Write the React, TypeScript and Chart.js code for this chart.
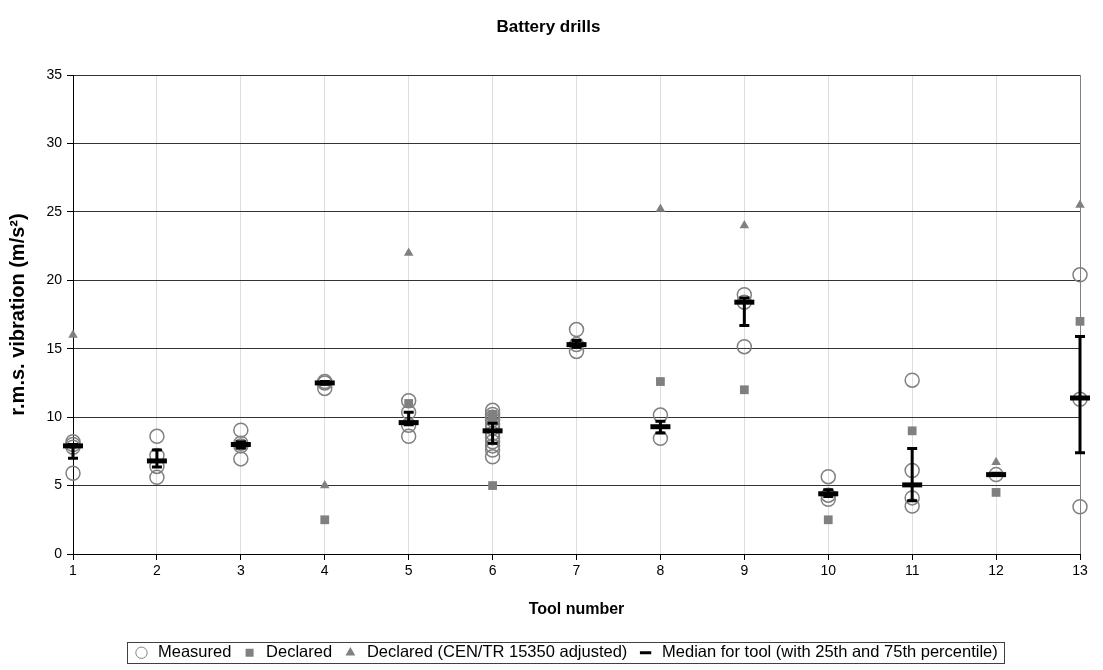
import React, { useEffect, useRef } from "react";
import { Chart, registerables } from "chart.js";

Chart.register(...registerables);

// ---------- data ----------
const TOOLS = [1, 2, 3, 4, 5, 6, 7, 8, 9, 10, 11, 12, 13];
const Y_MIN = 0;
const Y_MAX = 35;
const Y_STEP = 5;

// measured r.m.s. vibration values per tool
const measured: number[][] = [
  [8.2, 8.0, 7.8, 5.9],
  [8.6, 7.2, 6.4, 5.6],
  [9.05, 8.1, 7.9, 6.95],
  [12.6, 12.5, 12.1],
  [11.2, 10.35, 9.4, 8.6],
  [10.5, 10.2, 10.0, 9.8, 9.5, 9.2, 8.8, 8.5, 8.2, 7.9, 7.6, 7.1],
  [16.4, 15.3, 14.8],
  [10.15, 8.45],
  [18.95, 18.4, 15.15],
  [5.65, 4.3, 4.0],
  [12.7, 6.1, 4.1, 3.5],
  [5.8],
  [20.4, 11.3, 3.45],
];

// declared values per tool
const declared: number[][] = [
  [],
  [],
  [],
  [2.5],
  [11.0],
  [10.2, 9.8, 5.0],
  [],
  [12.6],
  [12.0],
  [2.5],
  [9.0],
  [4.5],
  [17.0],
];

// declared values adjusted per CEN/TR 15350
const declaredCEN: number[][] = [
  [16.0],
  [],
  [],
  [5.0],
  [22.0],
  [],
  [],
  [25.2],
  [24.0],
  [],
  [],
  [6.7],
  [25.5],
];

const median = [7.9, 6.8, 8.0, 12.5, 9.6, 9.0, 15.3, 9.3, 18.4, 4.4, 5.05, 5.8, 11.4];
const p25 = [7.0, 6.35, 7.75, 12.4, 9.45, 8.1, 15.1, 8.85, 16.7, 4.2, 3.9, 5.75, 7.4];
const p75 = [8.0, 7.6, 8.2, 12.6, 10.35, 9.55, 15.6, 9.7, 18.7, 4.7, 7.7, 5.9, 15.9];

const LABELS = [
  "Measured",
  "Declared",
  "Declared (CEN/TR 15350 adjusted)",
  "Median for tool (with 25th and 75th percentile)",
];

const FONT = "'Liberation Sans', Arial, Helvetica, sans-serif";
const GREY = "#808080";

const toPoints = (rows: number[][]) =>
  rows.flatMap((vals, i) => vals.map((v) => ({ x: TOOLS[i], y: v })));

const errorBarPlugin = {
  id: "errorBars",
  afterDatasetsDraw(chart: any) {
    const { ctx, scales } = chart;
    const xs = scales.x;
    const ys = scales.y;
    ctx.save();
    ctx.strokeStyle = "#000";
    ctx.lineWidth = 3;
    TOOLS.forEach((t, i) => {
      const px = xs.getPixelForValue(t);
      const lo = ys.getPixelForValue(p25[i]);
      const hi = ys.getPixelForValue(p75[i]);
      ctx.beginPath();
      ctx.moveTo(px, lo);
      ctx.lineTo(px, hi);
      ctx.moveTo(px - 5, lo);
      ctx.lineTo(px + 5, lo);
      ctx.moveTo(px - 5, hi);
      ctx.lineTo(px + 5, hi);
      ctx.stroke();
    });
    ctx.restore();
  },
};

const LEGEND_SHIFT_X = 17;
const LEGEND_SHIFT_Y = 1;

const legendBoxPlugin = {
  id: "legendBox",
  afterLayout(chart: any) {
    const lg = chart.legend;
    if (!lg) return;
    lg.left += LEGEND_SHIFT_X;
    lg.right += LEGEND_SHIFT_X;
    lg.top += LEGEND_SHIFT_Y;
    lg.bottom += LEGEND_SHIFT_Y;
  },
  afterDraw(chart: any) {
    const lg = chart.legend;
    if (!lg || !lg.legendHitBoxes || !lg.legendHitBoxes.length) return;
    const boxes = lg.legendHitBoxes;
    const first = boxes[0];
    const last = boxes[boxes.length - 1];
    const cy = first.top + first.height / 2;
    const left = first.left - 6;
    const right = last.left + last.width + 6;
    const top = cy - 10.5;
    const bottom = cy + 10.5;
    const { ctx } = chart;
    ctx.save();
    ctx.strokeStyle = "#404040";
    ctx.lineWidth = 1;
    ctx.strokeRect(
      Math.round(left) + 0.5,
      Math.round(top) + 0.5,
      Math.round(right - left),
      Math.round(bottom - top)
    );
    ctx.restore();
  },
};

export default function App() {
  const ref = useRef<HTMLCanvasElement | null>(null);

  useEffect(() => {
    if (!ref.current) return;
    const chart = new Chart(ref.current, {
      type: "scatter",
      data: {
        datasets: [
          {
            label: LABELS[0],
            data: toPoints(measured),
            pointStyle: "circle",
            pointRadius: 7,
            pointHoverRadius: 7,
            backgroundColor: "rgba(255,255,255,0)",
            borderColor: GREY,
            borderWidth: 1.5,
            clip: false,
          },
          {
            label: LABELS[1],
            data: toPoints(declared),
            pointStyle: "rect",
            pointRadius: 6.2,
            pointHoverRadius: 6.2,
            backgroundColor: GREY,
            borderColor: GREY,
            borderWidth: 0,
            clip: false,
          },
          {
            label: LABELS[2],
            data: toPoints(declaredCEN),
            pointStyle: "triangle",
            pointRadius: 5.5,
            pointHoverRadius: 5.5,
            backgroundColor: GREY,
            borderColor: GREY,
            borderWidth: 0,
            clip: false,
          },
          {
            label: LABELS[3],
            data: median.map((m, i) => ({ x: TOOLS[i], y: m })),
            pointStyle: "line",
            pointRadius: 10,
            pointHoverRadius: 10,
            backgroundColor: "#000",
            borderColor: "#000",
            borderWidth: 5,
            clip: false,
            order: -1,
          },
        ],
      },
      options: {
        animation: false,
        responsive: true,
        maintainAspectRatio: false,
        events: [],
        layout: { padding: { left: 0, right: 6, top: 0, bottom: 0 } },
        font: { family: FONT },
        plugins: {
          tooltip: { enabled: false },
          title: {
            display: true,
            text: "Battery drills",
            color: "#000",
            font: { family: FONT, size: 17, weight: "bold" },
            padding: { top: 8.8, bottom: 37.8 },
          },
          legend: {
            display: true,
            position: "bottom",
            labels: {
              color: "#000",
              font: { family: FONT, size: 16.5 },
              usePointStyle: true,
              boxHeight: 8,
              padding: 10,
              sort: (a: any, b: any) => a.datasetIndex - b.datasetIndex,
              generateLabels: () => [
                { text: LABELS[0], pointStyle: "circle", fillStyle: "rgba(255,255,255,0)", strokeStyle: GREY, lineWidth: 1, datasetIndex: 0, hidden: false, fontColor: "#000" },
                { text: LABELS[1], pointStyle: "rect", fillStyle: GREY, strokeStyle: GREY, lineWidth: 0, datasetIndex: 1, hidden: false, fontColor: "#000" },
                { text: LABELS[2], pointStyle: "triangle", fillStyle: GREY, strokeStyle: GREY, lineWidth: 0, datasetIndex: 2, hidden: false, fontColor: "#000" },
                { text: LABELS[3], pointStyle: "line", fillStyle: "#000", strokeStyle: "#000", lineWidth: 3, datasetIndex: 3, hidden: false, fontColor: "#000" },
              ],
            },
          },
        },
        scales: {
          x: {
            type: "linear",
            min: TOOLS[0],
            max: TOOLS[TOOLS.length - 1],
            afterFit: (s: any) => {
              s.height = 79.5;
            },
            afterBuildTicks: (s: any) => {
              s.ticks = TOOLS.map((v) => ({ value: v }));
            },
            ticks: {
              color: "#000",
              font: { family: FONT, size: 14 },
              padding: 3,
              maxRotation: 0,
            },
            grid: {
              color: (c: any) => (c.index === TOOLS.length - 1 ? GREY : "#dedede"),
              tickColor: "#000",
              tickLength: 6,
              lineWidth: 1,
            },
            border: { color: "#000", width: 1 },
            title: {
              display: true,
              text: "Tool number",
              color: "#000",
              font: { family: FONT, size: 16, weight: "bold" },
              padding: { top: 0, bottom: 14 },
            },
          },
          y: {
            type: "linear",
            min: Y_MIN,
            max: Y_MAX,
            afterFit: (s: any) => {
              s.width = 65;
            },
            ticks: {
              stepSize: Y_STEP,
              color: "#000",
              font: { family: FONT, size: 14 },
              padding: 5,
            },
            grid: {
              color: "#333",
              tickColor: "#000",
              tickLength: 6,
              lineWidth: 1,
            },
            border: { color: "#000", width: 1 },
            title: {
              display: true,
              text: "r.m.s. vibration (m/s²)",
              color: "#000",
              font: { family: FONT, size: 20, weight: "bold" },
              padding: { top: -2, bottom: 0 },
            },
          },
        },
      },
      plugins: [errorBarPlugin, legendBoxPlugin],
    } as any);
    return () => chart.destroy();
  }, []);

  return (
    <div style={{ position: "absolute", left: "8px", top: "8px", width: "1087px", height: "662px" }}>
      <canvas ref={ref} />
    </div>
  );
}
